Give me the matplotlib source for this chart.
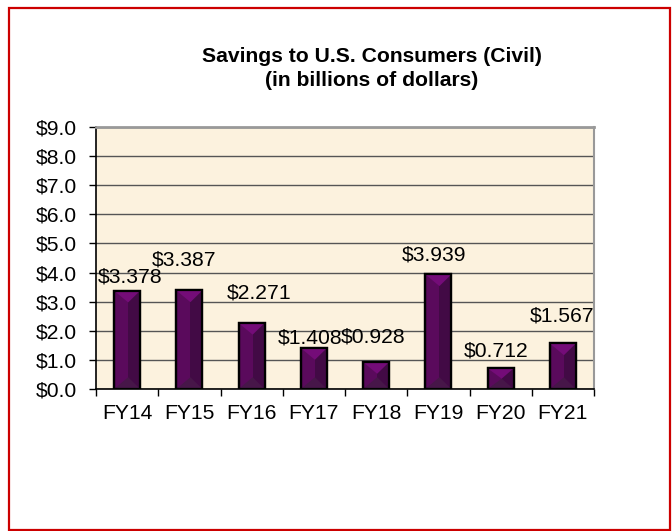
import matplotlib
matplotlib.use("Agg")
import matplotlib.pyplot as plt
from matplotlib.patches import Rectangle, Polygon
from matplotlib.ticker import FixedLocator, FuncFormatter

plt.rcParams['font.family'] = ['Liberation Sans', 'DejaVu Sans']

categories = ["FY14", "FY15", "FY16", "FY17", "FY18", "FY19", "FY20", "FY21"]
values = [3.378, 3.387, 2.271, 1.408, 0.928, 3.939, 0.712, 1.567]
value_labels = ["$3.378", "$3.387", "$2.271", "$1.408", "$0.928", "$3.939", "$0.712", "$1.567"]
y_ticks = [0, 1, 2, 3, 4, 5, 6, 7, 8, 9]
title_lines = ["Savings to U.S. Consumers (Civil)", "(in billions of dollars)"]

# label offsets (pixels, relative to bar top centre) - style only
label_offsets = [(3, 14), (-5, 30), (7, 30), (-4, 10), (-3, 25), (-4, 19), (-4, 17), (-1, 27)]

FS = 15.2
W, H, DPI = 672, 531, 100
fig = plt.figure(figsize=(W / DPI, H / DPI), dpi=DPI)
fig.patch.set_facecolor("white")

# red chart border
fig.patches.append(Rectangle((8.5 / W, 1 - 530 / H), (670 - 8.5) / W, (530 - 7.5) / H,
                             transform=fig.transFigure, fill=False,
                             edgecolor="#cc0000", linewidth=1.6, zorder=10))

left, right, top, bottom = 96, 594, 127, 389
ax = fig.add_axes([left / W, 1 - bottom / H, (right - left) / W, (bottom - top) / H])
ax.set_facecolor("#FCF2DE")

n = len(categories)
xs = list(range(n))
bar_w = 0.42
bars = ax.bar(xs, values, width=bar_w, color="#5A0A5C", edgecolor="black",
              linewidth=1.6, zorder=3)

ax.set_xlim(-0.5, n - 0.5)
ax.set_ylim(y_ticks[0], y_ticks[-1])

# pixel scales derived from the axes
px_per_y = (bottom - top) / (y_ticks[-1] - y_ticks[0])
px_per_x = (right - left) / n

# bevel decoration on each bar
for b in bars:
    x0 = b.get_x()
    w = b.get_width()
    h = b.get_height()
    xc = x0 + w * 0.54
    depth_px = w * px_per_x * 0.45
    depth = min(depth_px / px_per_y, h / 2)
    ax.add_patch(Polygon([(xc, 0), (x0 + w, 0), (x0 + w, h), (xc, h)],
                         closed=True, facecolor="#420A45", edgecolor="none", zorder=3.1))
    ax.add_patch(Polygon([(x0, 0), (x0 + w, 0), (xc, depth)],
                         closed=True, facecolor="#471649", edgecolor="none", zorder=3.2))
    ax.add_patch(Polygon([(x0, h), (x0 + w, h), (xc, h - depth)],
                         closed=True, facecolor="#740C78", edgecolor="none", zorder=3.3))
    ax.add_patch(Rectangle((x0, 0), w, h, fill=False, edgecolor="black",
                           linewidth=1.6, zorder=3.5))

# gridlines
ax.yaxis.grid(True, color="#555555", linewidth=1.0, zorder=1)
ax.set_axisbelow(True)

# y axis
ax.yaxis.set_major_locator(FixedLocator(y_ticks))
ax.yaxis.set_major_formatter(FuncFormatter(lambda v, p: f"${v:.1f}"))
ax.tick_params(axis="y", direction="out", length=5, width=1, pad=9,
               labelsize=FS, colors="black")

# x axis: ticks at boundaries, labels at centres
ax.xaxis.set_major_locator(FixedLocator([i - 0.5 for i in range(n + 1)]))
ax.xaxis.set_major_formatter(FuncFormatter(lambda v, p: ""))
ax.xaxis.set_minor_locator(FixedLocator(xs))
ax.set_xticklabels(categories, minor=True)
ax.tick_params(axis="x", which="major", direction="out", length=5, width=1)
ax.tick_params(axis="x", which="minor", length=0, pad=11, labelsize=FS)

for s in ["left", "bottom"]:
    ax.spines[s].set_color("black")
    ax.spines[s].set_linewidth(1.2)
ax.spines["top"].set_color("#999999")
ax.spines["top"].set_linewidth(2)
ax.spines["right"].set_color("#999999")
ax.spines["right"].set_linewidth(1.5)

# data labels
for x, v, lab, (dx, dy) in zip(xs, values, value_labels, label_offsets):
    ax.annotate(lab, xy=(x, v), xytext=(dx * 0.72, dy * 0.72), textcoords="offset points",
                ha="center", va="center", fontsize=FS, color="black", zorder=5)

# title
tx = 371.5 / W
fig.text(tx, 1 - 57 / H, title_lines[0], ha="center", va="center",
         fontsize=FS, fontweight="bold")
fig.text(tx, 1 - 80 / H, title_lines[1], ha="center", va="center",
         fontsize=FS, fontweight="bold")

fig.savefig("out.png", dpi=DPI, facecolor="white")
